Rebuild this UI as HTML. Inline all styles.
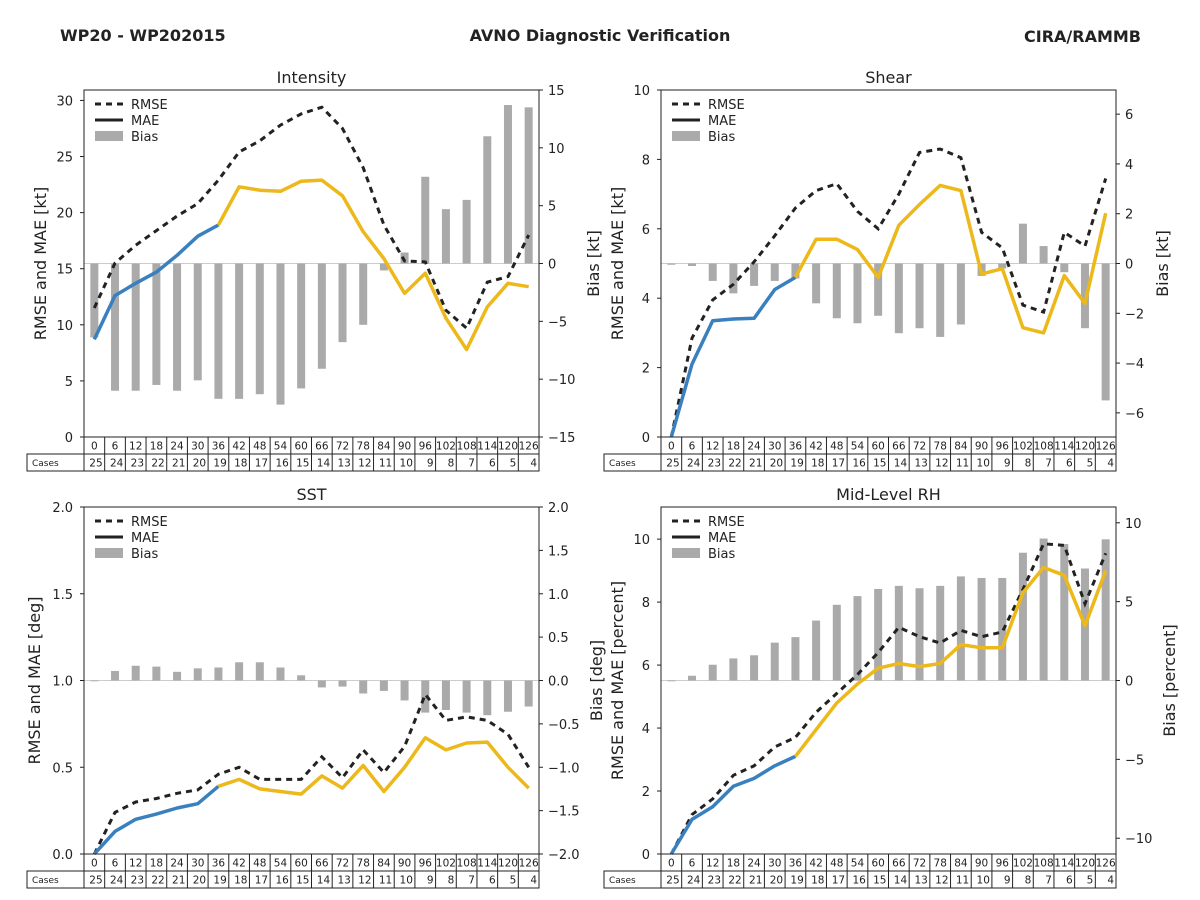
<!DOCTYPE html>
<html><head><meta charset="utf-8"><style>
body{margin:0;background:#fff;}
svg{display:block;font-family:"DejaVu Sans","Liberation Sans",sans-serif;}
</style></head><body>
<svg id="chart" width="1200" height="900" viewBox="0 0 1200 900">
<text x="60" y="41" font-size="16" font-weight="bold" fill="#222">WP20 - WP202015</text>
<text x="600" y="41" font-size="16" font-weight="bold" fill="#222" text-anchor="middle">AVNO Diagnostic Verification</text>
<text x="1141" y="42" font-size="16" font-weight="bold" fill="#222" text-anchor="end">CIRA/RAMMB</text>
</svg>
<script>
const hours=[0,6,12,18,24,30,36,42,48,54,60,66,72,78,84,90,96,102,108,114,120,126];
const cases=[25,24,23,22,21,20,19,18,17,16,15,14,13,12,11,10,9,8,7,6,5,4];
const intRmse=[11.5,15.5,17.1,18.4,19.7,20.8,22.9,25.4,26.4,27.8,28.8,29.4,27.5,24,18.9,15.7,15.6,11.3,9.7,13.8,14.3,18];
const intMae=[8.7,12.6,13.7,14.7,16.2,17.9,18.9,22.3,22,21.9,22.8,22.9,21.5,18.3,15.9,12.8,14.6,10.6,7.8,11.6,13.7,13.4];
const intBias=[-6.4,-11,-11,-10.5,-11,-10.1,-11.7,-11.7,-11.3,-12.2,-10.8,-9.1,-6.8,-5.3,-0.6,0.95,7.5,4.7,5.5,11,13.7,13.5];
const shrRmse=[0,2.85,3.95,4.4,5.05,5.8,6.6,7.1,7.3,6.5,6.0,7.0,8.2,8.3,8.05,5.9,5.45,3.8,3.6,5.9,5.5,7.45];
const shrMae=[0,2.1,3.35,3.4,3.42,4.25,4.6,5.7,5.7,5.4,4.6,6.1,6.7,7.25,7.1,4.7,4.85,3.15,3.0,4.65,3.85,6.45];
const shrBias=[-0.05,-0.1,-0.7,-1.2,-0.9,-0.7,-0.6,-1.6,-2.2,-2.4,-2.1,-2.8,-2.6,-2.95,-2.45,-0.5,-0.2,1.6,0.7,-0.35,-2.6,-5.5];
const sstRmse=[0,0.24,0.3,0.32,0.35,0.37,0.46,0.5,0.43,0.43,0.43,0.56,0.44,0.6,0.47,0.62,0.92,0.77,0.79,0.77,0.69,0.5];
const sstMae=[0,0.13,0.2,0.23,0.265,0.29,0.39,0.43,0.375,0.36,0.345,0.45,0.38,0.51,0.36,0.5,0.67,0.6,0.64,0.645,0.5,0.38];
const sstBias=[0,0.11,0.17,0.16,0.1,0.14,0.15,0.21,0.21,0.15,0.06,-0.08,-0.07,-0.15,-0.12,-0.23,-0.37,-0.34,-0.37,-0.4,-0.36,-0.3];
const rhRmse=[0,1.25,1.75,2.5,2.8,3.4,3.7,4.5,5.1,5.7,6.4,7.2,6.9,6.7,7.1,6.9,7.05,8.4,9.85,9.8,7.95,9.55];
const rhMae=[0,1.1,1.5,2.15,2.4,2.8,3.1,3.95,4.8,5.4,5.9,6.05,5.95,6.05,6.65,6.55,6.55,8.3,9.1,8.85,7.25,9.0];
const rhBias=[0,0.3,1.0,1.4,1.6,2.4,2.75,3.8,4.8,5.35,5.8,6.0,5.85,6.0,6.6,6.5,6.5,8.1,9.0,8.65,7.1,8.95];
const intLeftTicks=[0,5,10,15,20,25,30];
const intRightTicks=[-15,-10,-5,0,5,10,15];
const shrLeftTicks=[0,2,4,6,8,10];
const shrRightTicks=[-6,-4,-2,0,2,4,6];
const sstLeftTicks=[0,0.5,1.0,1.5,2.0];
const sstRightTicks=[-2.0,-1.5,-1.0,-0.5,0.0,0.5,1.0,1.5,2.0];
const rhLeftTicks=[0,2,4,6,8,10];
const rhRightTicks=[-10,-5,0,5,10];

const NS="http://www.w3.org/2000/svg";
const svg=document.getElementById('chart');
function mk(tag,attrs,parent,txt){const e=document.createElementNS(NS,tag);for(const k in attrs)e.setAttribute(k,attrs[k]);if(txt!==undefined)e.textContent=txt;(parent||svg).appendChild(e);return e;}
function fmt(v,dec){let s=v.toFixed(dec);if(v<0)s='\u2212'+s.slice(1);return s;}

function panel(c){
  const g=mk('g',{});
  
  
  const n=hours.length,w=(c.x1-c.x0)/n;
  const X=i=>c.x0+(i+0.5)*w;
  const YL=v=>c.y1-(v-c.lmin)/(c.lmax-c.lmin)*(c.y1-c.y0);
  const YR=v=>c.y1-(v-c.rmin)/(c.rmax-c.rmin)*(c.y1-c.y0);
  // zero bias line
  const zl=mk('line',{x1:c.x0,x2:c.x1,y1:YR(0),y2:YR(0),stroke:'#ccc','stroke-width':1},g);
  
  
  // bars
  c.bias.forEach((b,i)=>{
    const y=YR(Math.max(b,0)),h=Math.abs(YR(b)-YR(0));
    const r=mk('rect',{x:X(i)-4,y:y,width:8,height:Math.max(h,0.8),fill:'#aaa'},g);
    
    
  });
  // rmse dashed
  const rp=c.rmse.map((v,i)=>X(i).toFixed(1)+','+YL(v).toFixed(1)).join(' ');
  const rl=mk('polyline',{points:rp,fill:'none',stroke:'#222','stroke-width':3,'stroke-dasharray':'6,5'},g);
  
  
  const bp=c.mae.slice(0,7).map((v,i)=>X(i).toFixed(1)+','+YL(v).toFixed(1)).join(' ');
  const bl=mk('polyline',{points:bp,fill:'none',stroke:'#3a80bf','stroke-width':3.5,'stroke-linejoin':'round'},g);
  
  
  const yp=c.mae.slice(6).map((v,i)=>X(i+6).toFixed(1)+','+YL(v).toFixed(1)).join(' ');
  const yl=mk('polyline',{points:yp,fill:'none',stroke:'#ecb81a','stroke-width':3.5,'stroke-linejoin':'round'},g);
  
  
  // frame
  const fr=mk('rect',{x:c.x0,y:c.y0,width:c.x1-c.x0,height:c.y1-c.y0,fill:'none',stroke:'#222','stroke-width':1},g);
  
  
  // left ticks
  c.lt.forEach(v=>{
    mk('line',{x1:c.x0-4,x2:c.x0,y1:YL(v),y2:YL(v),stroke:'#222'},g);
    const t=mk('text',{x:c.x0-11,y:YL(v)+5,'font-size':13,'text-anchor':'end',fill:'#222'},g,fmt(v,c.dec));
    
    
  });
  c.rt.forEach(v=>{
    mk('line',{x1:c.x1,x2:c.x1+4,y1:YR(v),y2:YR(v),stroke:'#222'},g);
    const t=mk('text',{x:c.x1+9,y:YR(v)+5,'font-size':13,fill:'#222'},g,fmt(v,c.dec));
    
    
  });
  const ti=mk('text',{x:(c.x0+c.x1)/2,y:c.y0-7,'font-size':16,'text-anchor':'middle',fill:'#222'},g,c.title);
  
  
  const lx=c.llx,ly=(c.y0+c.y1)/2;
  const la=mk('text',{x:lx,y:ly,'font-size':16,'text-anchor':'middle',fill:'#222',transform:`rotate(-90 ${lx} ${ly})`},g,c.ll);
  
  
  const rx=c.rlx;
  const ra=mk('text',{x:rx,y:ly,'font-size':16,'text-anchor':'middle',fill:'#222',transform:`rotate(-90 ${rx} ${ly})`},g,c.rl);
  
  
  // legend
  const lg=mk('g',{},g);
  
  
  const ex=c.x0+11,ey=c.y0+14;
  mk('line',{x1:ex,x2:ex+28,y1:ey,y2:ey,stroke:'#222','stroke-width':3,'stroke-dasharray':'6,5'},lg);
  mk('text',{x:ex+36,y:ey+5,'font-size':13,fill:'#222'},lg,'RMSE');
  mk('line',{x1:ex,x2:ex+28,y1:ey+16,y2:ey+16,stroke:'#222','stroke-width':3},lg);
  mk('text',{x:ex+36,y:ey+21,'font-size':13,fill:'#222'},lg,'MAE');
  mk('rect',{x:ex,y:ey+27,width:28,height:10,fill:'#aaa'},lg);
  mk('text',{x:ex+36,y:ey+37,'font-size':13,fill:'#222'},lg,'Bias');
  // table
  const tb=mk('g',{},g);
  
  
  const r1=c.y1,r2=c.y1+17,r3=c.y1+34;
  mk('rect',{x:c.x0,y:r1,width:c.x1-c.x0,height:17,fill:'none',stroke:'#222'},tb);
  mk('rect',{x:c.tx,y:r2,width:c.x1-c.tx,height:17,fill:'none',stroke:'#222'},tb);
  mk('line',{x1:c.x0,x2:c.x0,y1:r2,y2:r3,stroke:'#222'},tb);
  mk('text',{x:c.tx+5,y:r2+12,'font-size':9,fill:'#222'},tb,'Cases');
  hours.forEach((h,i)=>{
    const cx=c.x0+i*w;
    if(i>0){mk('line',{x1:cx,x2:cx,y1:r1,y2:r3,stroke:'#222'},tb);}
    mk('text',{x:cx+w/2,y:r1+12.5,'font-size':10.5,'text-anchor':'middle',fill:'#222'},tb,h);
    mk('text',{x:cx+w-2,y:r2+12.5,'font-size':10.5,'text-anchor':'end',fill:'#222'},tb,cases[i]);
  });
}
panel({id:'intensity',title:'Intensity',x0:84,x1:539,y0:90,y1:437,lmin:0,lmax:30.93,rmin:-15,rmax:15,lt:intLeftTicks,rt:intRightTicks,dec:0,rmse:intRmse,mae:intMae,bias:intBias,ll:'RMSE and MAE [kt]',rl:'Bias [kt]',llx:46,rlx:599,tx:27});
panel({id:'shear',title:'Shear',x0:661,x1:1116,y0:90,y1:437,lmin:0,lmax:10,rmin:-6.97,rmax:6.97,lt:shrLeftTicks,rt:shrRightTicks,dec:0,rmse:shrRmse,mae:shrMae,bias:shrBias,ll:'RMSE and MAE [kt]',rl:'Bias [kt]',llx:623,rlx:1168,tx:604});
panel({id:'sst',title:'SST',x0:84,x1:539,y0:507,y1:854,lmin:0,lmax:2,rmin:-2,rmax:2,lt:sstLeftTicks,rt:sstRightTicks,dec:1,rmse:sstRmse,mae:sstMae,bias:sstBias,ll:'RMSE and MAE [deg]',rl:'Bias [deg]',llx:40,rlx:602,tx:27});
panel({id:'rh',title:'Mid-Level RH',x0:661,x1:1116,y0:507,y1:854,lmin:0,lmax:11.02,rmin:-11,rmax:11,lt:rhLeftTicks,rt:rhRightTicks,dec:0,rmse:rhRmse,mae:rhMae,bias:rhBias,ll:'RMSE and MAE [percent]',rl:'Bias [percent]',llx:623,rlx:1175,tx:604});
</script>
</body></html>
